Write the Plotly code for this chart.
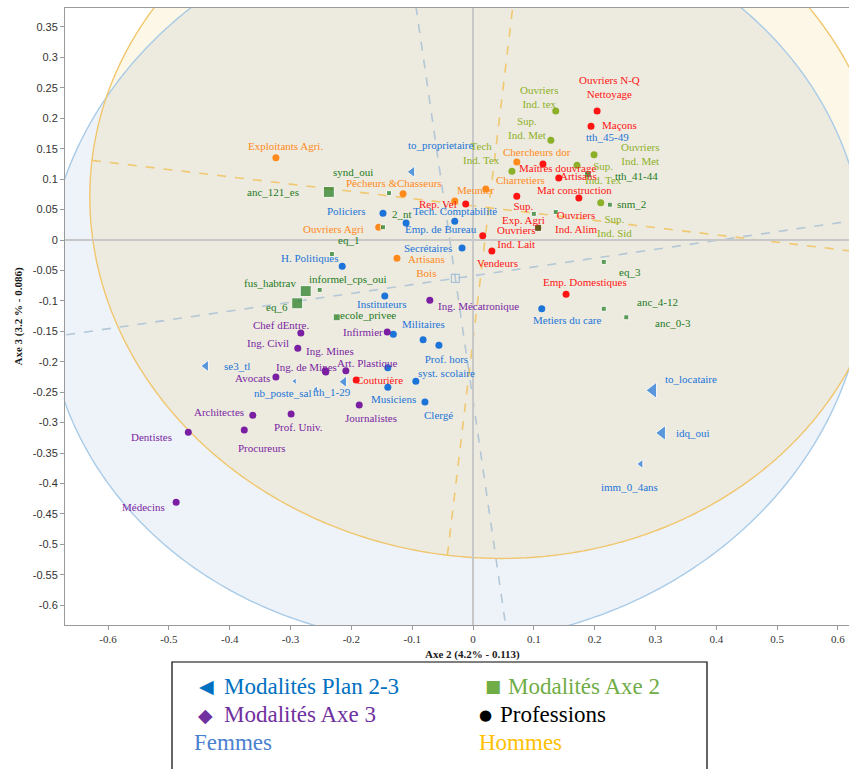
import numpy as np
import plotly.graph_objects as go

# ---------------- Professions (coordinates on axes 2 and 3) ----------------
orange_names = ["Exploitants Agri.", "Pêcheurs &Chasseurs", "Ouvriers Agri", "Artisans<br>Bois",
                "Meunier", "Charretiers", "Chercheurs dor"]
orange_x = [-0.324, -0.115, -0.155, -0.125, -0.030, 0.021, 0.072]
orange_y = [0.135, 0.076, 0.021, -0.030, 0.064, 0.084, 0.128]

red_names = ["Ouvriers N-Q<br>Nettoyage", "Maçons", "Maîtres douvrage", "Artisans", "Mat construction",
             "Rep. Vel", "Sup.<br>Exp. Agri", "Ouvriers<br>Ind. Alim", "Ouvriers<br>Ind. Lait", "Vendeurs",
             "Emp. Domestiques", "Couturière"]
red_x = [0.204, 0.194, 0.115, 0.141, 0.174, -0.012, 0.072, 0.107, 0.016, 0.031, 0.153, -0.192]
red_y = [0.212, 0.187, 0.125, 0.102, 0.069, 0.059, 0.072, 0.020, 0.007, -0.018, -0.089, -0.230]

olive_names = ["Ouvriers<br>Ind. tex", "Sup.<br>Ind. Met", "Tech<br>Ind. Tex", "Ouvriers<br>Ind. Met",
               "Sup.<br>Ind. Tex", "Sup.<br>Ind. Sid"]
olive_x = [0.136, 0.128, 0.064, 0.199, 0.171, 0.210]
olive_y = [0.212, 0.164, 0.113, 0.140, 0.123, 0.061]

blue_names = ["Policiers", "Tech. Comptabilité", "Emp. de Bureau", "Secrétaires", "H. Politiques",
              "Instituteurs", "Militaires", "Prof. hors<br>syst. scolaire", "Musiciens", "Clergé",
              "Metiers du care", "", "", ""]
blue_x = [-0.148, -0.030, -0.110, -0.018, -0.215, -0.145, -0.082, -0.056, -0.140, -0.079, 0.113,
          -0.131, -0.140, -0.094]
blue_y = [0.044, 0.031, 0.028, -0.013, -0.043, -0.092, -0.164, -0.173, -0.242, -0.266, -0.113,
          -0.155, -0.210, -0.232]

purple_names = ["Ing. Mécatronique", "Chef dEntre.", "Infirmier", "Ing. Civil", "Ing. Mines",
                "Ing. de Mines", "Art. Plastique", "Avocats", "Architectes", "Prof. Univ.",
                "Procureurs", "Journalistes", "Dentistes", "Médecins"]
purple_x = [-0.071, -0.283, -0.141, -0.288, -0.243, -0.242, -0.209, -0.324, -0.362, -0.299,
            -0.376, -0.187, -0.468, -0.488]
purple_y = [-0.099, -0.153, -0.151, -0.178, -0.215, -0.217, -0.215, -0.225, -0.288, -0.286,
            -0.312, -0.271, -0.316, -0.431]

# ---------------- Modalités Axe 2 (squares) ----------------
axe2_names = ["synd_oui", "anc_121_es", "2_nt", "eq_1", "fus_habtrav", "informel_cps_oui", "eq_6",
              "ecole_privee", "tth_41-44", "snm_2", "eq_3", "anc_4-12", "anc_0-3", "", "", ""]
axe2_x = [-0.138, -0.237, -0.148, -0.232, -0.275, -0.252, -0.289, -0.224, 0.189, 0.225, 0.215,
          0.215, 0.252, 0.100, 0.136, 0.107]
axe2_y = [0.077, 0.079, 0.021, -0.023, -0.084, -0.082, -0.104, -0.127, 0.108, 0.058, -0.036,
          -0.113, -0.127, 0.043, 0.046, 0.020]

# ---------------- Modalités Plan 2-3 (triangles) ----------------
plan_names = ["to_proprietaire", "tth_45-49", "se3_tl", "nb_poste_sal", "tth_1-29", "",
              "to_locataire", "idq_oui", "imm_0_4ans"]
plan_x = [-0.100, 0.194, -0.439, -0.293, -0.212, -0.258, 0.296, 0.311, 0.276]
plan_y = [0.112, 0.186, -0.207, -0.232, -0.233, -0.245, -0.247, -0.317, -0.368]

# ---------------- Confidence ellipses: centre x, centre y, semi-axes a, b, angle (deg) ----------------
femmes_ellipse = (-0.029, -0.063, 0.676, 0.598, 8.25)
hommes_ellipse = (0.026, 0.053, 0.657, 0.575, -6.8)

# ---------------- Axis ticks ----------------
x_ticks = [-0.6, -0.5, -0.4, -0.3, -0.2, -0.1, 0, 0.1, 0.2, 0.3, 0.4, 0.5, 0.6]
x_ticklabels = ["-0.6", "-0.5", "-0.4", "-0.3", "-0.2", "-0.1", "0", "0.1", "0.2", "0.3", "0.4", "0.5", "0.6"]
y_ticks = [0.35, 0.3, 0.25, 0.2, 0.15, 0.1, 0.05, 0, -0.05, -0.1, -0.15, -0.2, -0.25, -0.3,
           -0.35, -0.4, -0.45, -0.5, -0.55, -0.6]
y_ticklabels = ["0.35", "0.3", "0.25", "0.2", "0.15", "0.1", "0.05", "0", "-0.05", "-0.1", "-0.15",
                "-0.2", "-0.25", "-0.3", "-0.35", "-0.4", "-0.45", "-0.5", "-0.55", "-0.6"]

# ---------------- Label placement (pixel offsets from the marker: dx right, dy down) ----------------
orange_off = [(10, -12), (-9, -11), (-45, 2), (30, 8), (21, -11), (35, -9), (20, -10)]
red_off = [(12, -24), (28, -1), (15, 4), (20, -2), (-4, -8), (-28, 0), (7, 17), (38, -6), (34, 1),
           (6, 12), (19, -12), (23, 0)]
olive_off = [(-16, -14), (-24, -12), (-30, -18), (46, -1), (26, 8), (14, 23)]
blue_off = [(-36, -2), (0, -10), (35, 6), (-34, 0), (-33, -8), (-3, 8), (0, -16), (8, 21), (6, 12),
            (14, 13), (26, 11), (0, 0), (0, 0), (0, 0)]
purple_off = [(49, 6), (-20, -8), (-24, 0), (-30, -5), (5, -20), (-19, -5), (22, -8), (-23, 1),
              (-34, -3), (7, 13), (18, 18), (12, 13), (-37, 5), (-33, 5)]
axe2_off = [(-36, -21), (-56, 0), (19, -13), (17, -14), (-36, -8), (28, -11), (-20, 4), (31, -2),
            (49, 2), (22, -1), (26, 10), (54, -7), (47, 6), (0, 0), (0, 0), (0, 0)]
plan_off = [(28, -27), (16, 10), (31, 0), (-12, 12), (-12, 10), (0, 0), (38, -11), (31, 0), (-11, 23)]

axe2_size = [5, 11, 5, 5, 11, 5, 11, 7, 7, 5, 5, 5, 5, 5, 5, 7]
plan_size = [10, 5, 10, 6, 10, 6, 14, 13, 8]

C_ORANGE = "#FF8A1C"
C_RED = "#FF1414"
C_OLIVE = "#8DB02A"
C_BLUE = "#1C74D8"
C_PURPLE = "#7A1FA2"
C_GREEN = "#1E7A1E"

LABEL_FONT = "Liberation Serif"


def ellipse_points(e, n=720):
    cx, cy, a, b, ang = e
    t = np.linspace(0, 2 * np.pi, n, endpoint=False)
    th = np.radians(ang)
    xs = cx + a * np.cos(t) * np.cos(th) - b * np.sin(t) * np.sin(th)
    ys = cy + a * np.cos(t) * np.sin(th) + b * np.sin(t) * np.cos(th)
    return xs, ys


def inside(e, xs, ys):
    cx, cy, a, b, ang = e
    th = np.radians(ang)
    dx, dy = xs - cx, ys - cy
    u = dx * np.cos(th) + dy * np.sin(th)
    v = -dx * np.sin(th) + dy * np.cos(th)
    return (u / a) ** 2 + (v / b) ** 2 <= 1.0


def to_path(xs, ys):
    return "M " + " L ".join(f"{x:.5f},{y:.5f}" for x, y in zip(xs, ys)) + " Z"


fx, fy = ellipse_points(femmes_ellipse)
hx, hy = ellipse_points(hommes_ellipse)

# Intersection of the two (convex) ellipses, ordered by angle around a common interior point
ix = np.concatenate([fx[inside(hommes_ellipse, fx, fy)], hx[inside(femmes_ellipse, hx, hy)]])
iy = np.concatenate([fy[inside(hommes_ellipse, fx, fy)], hy[inside(femmes_ellipse, hx, hy)]])
mx = (femmes_ellipse[0] + hommes_ellipse[0]) / 2
my = (femmes_ellipse[1] + hommes_ellipse[1]) / 2
order = np.argsort(np.arctan2(iy - my, ix - mx))
ix, iy = ix[order], iy[order]

shapes = [
    dict(type="path", path=to_path(fx, fy), xref="x", yref="y", layer="below",
         fillcolor="#EEF3F9", line=dict(width=0)),
    dict(type="path", path=to_path(hx, hy), xref="x", yref="y", layer="below",
         fillcolor="#FCF7E6", line=dict(width=0)),
    dict(type="path", path=to_path(ix, iy), xref="x", yref="y", layer="below",
         fillcolor="#EDEBDF", line=dict(width=0)),
]


def axis_lines(e, color):
    cx, cy, a, b, ang = e
    th = np.radians(ang)
    out = []
    for (ux, uy, r) in [(np.cos(th), np.sin(th), a), (-np.sin(th), np.cos(th), b)]:
        out.append(dict(type="line", xref="x", yref="y", layer="below",
                        x0=cx - r * ux, y0=cy - r * uy, x1=cx + r * ux, y1=cy + r * uy,
                        line=dict(color=color, width=1.6, dash="dash")))
    return out


shapes += axis_lines(femmes_ellipse, "#B3C7D7")
shapes += axis_lines(hommes_ellipse, "#F0C870")
shapes += [
    dict(type="path", path=to_path(fx, fy), xref="x", yref="y", layer="below",
         fillcolor="rgba(0,0,0,0)", line=dict(color="#A9CBE8", width=1.4)),
    dict(type="path", path=to_path(hx, hy), xref="x", yref="y", layer="below",
         fillcolor="rgba(0,0,0,0)", line=dict(color="#F0C66E", width=1.4)),
]

fig = go.Figure()

# centre of the Femmes ellipse
fig.add_trace(go.Scatter(x=[femmes_ellipse[0]], y=[femmes_ellipse[1]], mode="markers",
                         marker=dict(symbol="square-open", size=8, color="#A9C2D8",
                                     line=dict(width=1.2)), hoverinfo="skip"))

# triangles first (some sit under profession markers)
fig.add_trace(go.Scatter(x=plan_x, y=plan_y, mode="markers", text=plan_names,
                         marker=dict(symbol="triangle-left", size=plan_size, color=C_BLUE)))

for xs, ys, names, col in [(orange_x, orange_y, orange_names, C_ORANGE),
                           (red_x, red_y, red_names, C_RED),
                           (olive_x, olive_y, olive_names, C_OLIVE),
                           (blue_x, blue_y, blue_names, C_BLUE),
                           (purple_x, purple_y, purple_names, C_PURPLE)]:
    fig.add_trace(go.Scatter(x=xs, y=ys, mode="markers", text=names,
                             marker=dict(symbol="circle", size=7, color=col)))

fig.add_trace(go.Scatter(x=axe2_x, y=axe2_y, mode="markers", text=axe2_names,
                         marker=dict(symbol="square", size=axe2_size, color=C_GREEN)))

annotations = []
for xs, ys, names, offs, col in [(orange_x, orange_y, orange_names, orange_off, C_ORANGE),
                                 (red_x, red_y, red_names, red_off, C_RED),
                                 (olive_x, olive_y, olive_names, olive_off, C_OLIVE),
                                 (blue_x, blue_y, blue_names, blue_off, C_BLUE),
                                 (purple_x, purple_y, purple_names, purple_off, C_PURPLE),
                                 (axe2_x, axe2_y, axe2_names, axe2_off, C_GREEN),
                                 (plan_x, plan_y, plan_names, plan_off, C_BLUE)]:
    for x, y, name, (dx, dy) in zip(xs, ys, names, offs):
        if not name:
            continue
        annotations.append(dict(x=x, y=y, xref="x", yref="y", text=name, showarrow=False,
                                xshift=dx, yshift=-dy, align="center",
                                xanchor="center", yanchor="middle",
                                font=dict(family=LABEL_FONT, size=11, color=col)))

# axis titles
annotations.append(dict(x=(472 - 65) / 784, y=(625 - 654) / 617, xref="paper", yref="paper",
                        xanchor="center", yanchor="middle",
                        text="<b>Axe 2 (4.2% - 0.113)</b>", showarrow=False,
                        font=dict(family=LABEL_FONT, size=11, color="#1a1a1a")))
annotations.append(dict(x=(18 - 65) / 784, y=0.5, xref="paper", yref="paper", textangle=-90,
                        xanchor="center", yanchor="middle",
                        text="<b>Axe 3 (3.2 % - 0.086)</b>", showarrow=False,
                        font=dict(family=LABEL_FONT, size=11, color="#1a1a1a")))


def px_x(p):
    return (p - 65) / 784


def px_y(p):
    return (625 - p) / 617


legend_items = [
    ("◀", 206, 686, "#0070C0", 19, "DejaVu Sans", "center"),
    ("Modalités Plan 2-3", 222, 686, "#0070C0", 23, LABEL_FONT, "left"),
    ("■", 493, 686, "#70AD47", 17, "DejaVu Sans", "center"),
    ("Modalités Axe 2", 506, 686, "#70AD47", 23, LABEL_FONT, "left"),
    ("◆", 205, 715, "#7030A0", 19, "DejaVu Sans", "center"),
    ("Modalités Axe 3", 222, 715, "#7030A0", 23, LABEL_FONT, "left"),
    ("●", 485, 715, "#000000", 15, "DejaVu Sans", "center"),
    ("Professions", 498, 715, "#000000", 23, LABEL_FONT, "left"),
    ("Femmes", 192, 742, "#4A7FD0", 23, LABEL_FONT, "left"),
    ("Hommes", 477, 742, "#FFC000", 23, LABEL_FONT, "left"),
]
for txt, lx, ly, col, size, fam, anchor in legend_items:
    annotations.append(dict(x=px_x(lx), y=px_y(ly), xref="paper", yref="paper", text=txt,
                            showarrow=False, xanchor=anchor, yanchor="middle",
                            font=dict(family=fam, size=size, color=col)))

shapes.append(dict(type="rect", xref="paper", yref="paper", x0=px_x(172), x1=px_x(707),
                   y0=px_y(662), y1=px_y(775), line=dict(color="#000000", width=1.2),
                   fillcolor="rgba(0,0,0,0)"))

fig.update_layout(
    width=849, height=769,
    margin=dict(l=65, r=0, t=8, b=144),
    plot_bgcolor="white", paper_bgcolor="white",
    showlegend=False,
    shapes=shapes,
    annotations=annotations,
    xaxis=dict(range=[-0.6707, 0.6181], tickvals=x_ticks, ticktext=x_ticklabels,
               showgrid=False, zeroline=True, zerolinecolor="#C8C8C8", zerolinewidth=1.5,
               showline=True, linecolor="#9A9A9A", linewidth=1, mirror=True,
               ticks="outside", ticklen=4, tickcolor="#9A9A9A",
               tickfont=dict(family=LABEL_FONT, size=11, color="#333333")),
    yaxis=dict(range=[-0.6326, 0.3812], tickvals=y_ticks, ticktext=y_ticklabels,
               showgrid=False, zeroline=True, zerolinecolor="#C8C8C8", zerolinewidth=1.5,
               showline=True, linecolor="#9A9A9A", linewidth=1,
               ticks="outside", ticklen=4, tickcolor="#9A9A9A",
               tickfont=dict(family="Liberation Sans", size=11, color="#333333")),
)

fig.write_html("out.html")
